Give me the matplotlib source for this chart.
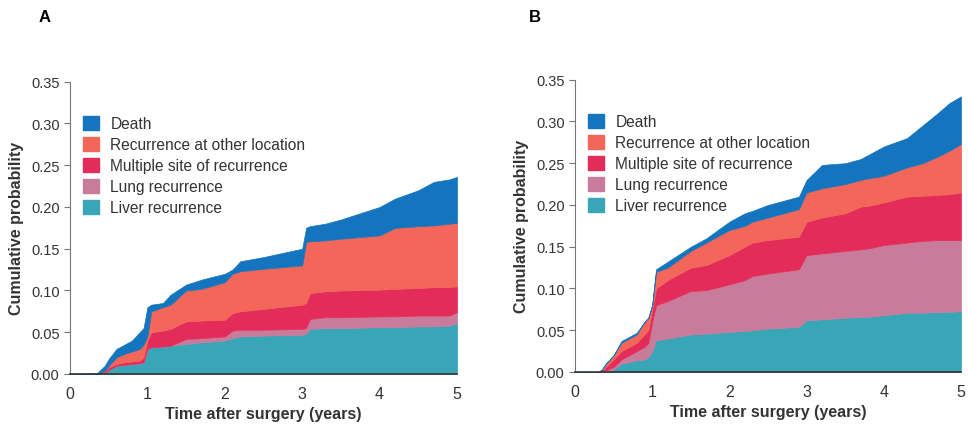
import matplotlib
matplotlib.use("Agg")
import matplotlib.pyplot as plt
import numpy as np
from matplotlib.patches import Patch

plt.rcParams['font.family'] = ['Liberation Sans', 'DejaVu Sans']

series_names = ["Death", "Recurrence at other location", "Multiple site of recurrence",
                "Lung recurrence", "Liver recurrence"]
colors = {"Death": "#1474bd", "Recurrence at other location": "#f2675a",
          "Multiple site of recurrence": "#e42c5a", "Lung recurrence": "#c97b9b",
          "Liver recurrence": "#38a6b7"}

# Panel A: cumulative tops of each stacked layer
t_a = [0, .35, .45, .5, .6, .7, .8, .9, .95, 1.0, 1.05, 1.2, 1.3, 1.5, 1.7, 2.0, 2.1, 2.2, 2.5,
       3.0, 3.05, 3.1, 3.3, 3.5, 4.0, 4.2, 4.5, 4.7, 4.9, 5.0]
liver_a = [0, 0, .002, .005, .010, .011, .012, .013, .014, .030, .032, .033, .034, .036, .038, .040,
           .043, .045, .046, .047, .048, .054, .055, .055, .056, .056, .057, .057, .058, .061]
lung_a = [0, 0, .002, .005, .010, .011, .012, .013, .014, .030, .032, .033, .034, .042, .043, .045,
          .052, .053, .053, .054, .055, .066, .068, .068, .069, .069, .070, .070, .070, .074]
multi_a = [0, 0, .003, .008, .012, .014, .015, .016, .020, .040, .050, .052, .054, .063, .064, .065,
           .073, .075, .078, .083, .085, .097, .099, .100, .101, .102, .103, .104, .104, .105]
other_a = [0, 0, .004, .010, .020, .024, .027, .030, .035, .045, .075, .080, .083, .100, .102, .110,
           .120, .123, .126, .130, .158, .159, .160, .162, .166, .175, .177, .178, .180, .181]
death_a = [0, .001, .010, .018, .030, .035, .040, .050, .055, .080, .083, .085, .095, .107, .113, .120,
           .125, .135, .140, .150, .175, .177, .180, .185, .200, .210, .220, .230, .233, .236]

# Panel B
t_b = [0, .3, .35, .4, .5, .6, .7, .8, .9, .95, 1.0, 1.05, 1.2, 1.5, 1.7, 2.0, 2.2, 2.3, 2.5, 2.9,
       3.0, 3.2, 3.5, 3.7, 3.8, 4.0, 4.3, 4.5, 4.7, 4.85, 5.0]
liver_b = [0, 0, 0, 0, .003, .010, .012, .014, .015, .018, .025, .038, .040, .045, .046, .048, .049,
           .050, .052, .054, .062, .063, .065, .066, .066, .068, .071, .071, .072, .072, .073]
lung_b = [0, 0, 0, .002, .006, .015, .020, .025, .030, .035, .060, .080, .085, .097, .098, .105, .110,
          .115, .118, .123, .140, .142, .145, .147, .148, .152, .155, .157, .158, .158, .158]
multi_b = [0, 0, .002, .006, .015, .025, .030, .035, .045, .050, .075, .100, .110, .125, .128, .140,
           .150, .155, .158, .162, .180, .185, .190, .198, .199, .203, .210, .211, .212, .213, .215]
other_b = [0, 0, .003, .010, .020, .035, .040, .045, .060, .065, .080, .120, .125, .145, .155, .170,
           .175, .180, .185, .195, .215, .220, .225, .230, .232, .235, .245, .250, .258, .265, .273]
death_b = [0, 0, .003, .010, .020, .037, .042, .047, .060, .065, .080, .123, .132, .150, .160, .180,
           .190, .193, .200, .210, .230, .248, .250, .255, .260, .270, .280, .295, .310, .322, .330]

x_ticks = [0, 1, 2, 3, 4, 5]
y_ticks = [0.00, 0.05, 0.10, 0.15, 0.20, 0.25, 0.30, 0.35]

fig = plt.figure(figsize=(9.68, 4.27), dpi=100)
W, H = 968, 427


def make_ax(l, r, b, t):
    return fig.add_axes([l / W, 1 - b / H, (r - l) / W, (b - t) / H])


def draw(ax, t, layers):
    t = np.asarray(t, dtype=float)
    lower = np.zeros_like(t)
    order = ["Liver recurrence", "Lung recurrence", "Multiple site of recurrence",
             "Recurrence at other location", "Death"]
    for name in order:
        upper = np.asarray(layers[name], dtype=float)
        ax.fill_between(t, lower, upper, color=colors[name], lw=0.5,
                        edgecolor=colors[name])
        lower = upper
    ax.set_xlim(0, 5)
    ax.set_ylim(0, 0.35)
    ax.set_xticks(x_ticks)
    ax.set_yticks(y_ticks)
    ax.set_yticklabels([f"{v:.2f}" for v in y_ticks])
    for s in ["top", "right"]:
        ax.spines[s].set_visible(False)
    ax.spines["left"].set_color("#777777")
    ax.spines["bottom"].set_color("#333333")
    ax.spines["bottom"].set_linewidth(1.2)
    ax.tick_params(axis='x', length=0, labelsize=11.5, pad=9, colors="#333333")
    ax.tick_params(axis='y', length=4, direction='out', color="#777777", labelsize=10.5,
                   colors="#333333")
    ax.set_xlabel("Time after surgery (years)", fontsize=11.5, fontweight='bold', color="#333333",
                  labelpad=3)
    ax.set_ylabel("Cumulative probability", fontsize=11.5, fontweight='bold', color="#333333",
                  labelpad=5)
    handles = [Patch(facecolor=colors[n], edgecolor=colors[n]) for n in series_names]
    ax.legend(handles, series_names, loc='upper left', bbox_to_anchor=(0.01, 0.915),
              frameon=False, fontsize=11.2, handlelength=1.0, handleheight=1.0,
              labelspacing=0.37, handletextpad=0.75, borderaxespad=0.2,
              labelcolor="#333333")


axA = make_ax(70, 457, 375, 82.7)
draw(axA, t_a, {"Liver recurrence": liver_a, "Lung recurrence": lung_a,
                "Multiple site of recurrence": multi_a,
                "Recurrence at other location": other_a, "Death": death_a})
axB = make_ax(575, 961, 373, 80.7)
draw(axB, t_b, {"Liver recurrence": liver_b, "Lung recurrence": lung_b,
                "Multiple site of recurrence": multi_b,
                "Recurrence at other location": other_b, "Death": death_b})

fig.text(45 / W, 1 - 17 / H, "A", fontsize=12, fontweight='bold', ha='center', va='center')
fig.text(535 / W, 1 - 17 / H, "B", fontsize=12, fontweight='bold', ha='center', va='center')

fig.savefig("out.png", dpi=100)
